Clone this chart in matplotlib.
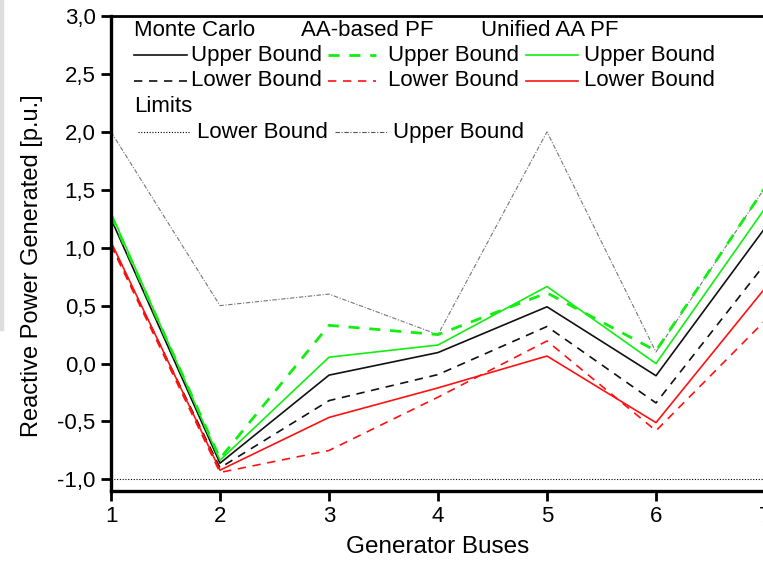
import numpy as np
import matplotlib
matplotlib.use('Agg')
import matplotlib.pyplot as plt
from matplotlib.lines import Line2D
from matplotlib.patches import Rectangle
from matplotlib.ticker import FuncFormatter

plt.rcParams['font.family'] = ['Liberation Sans', 'DejaVu Sans']

buses = [1, 2, 3, 4, 5, 6, 7]

mc_upper = [1.25, -0.86, -0.10, 0.095, 0.49, -0.105, 1.17]
mc_lower = [1.03, -0.90, -0.32, -0.095, 0.32, -0.34, 0.86]
aa_upper = [1.28, -0.82, 0.33, 0.25, 0.61, 0.11, 1.52]
aa_lower = [1.02, -0.94, -0.75, -0.29, 0.195, -0.58, 0.37]
un_upper = [1.30, -0.835, 0.055, 0.16, 0.665, 0.0, 1.34]
un_lower = [1.05, -0.92, -0.465, -0.21, 0.065, -0.51, 0.65]
lim_upper = [2.0, 0.5, 0.6, 0.25, 2.0, 0.1, 1.52]
lim_lower = [-1.0, -1.0, -1.0, -1.0, -1.0, -1.0, -1.0]

green = '#11ee11'
red = '#ff1111'
dashdot = (0, (4, 1.5, 1, 1.5))

fig = plt.figure(figsize=(7.63, 5.61), dpi=100)
ax = fig.add_axes([111/763, 70/561, 654/763, 475/561])

ax.plot(buses, lim_upper, color='#777777', lw=0.8, ls=dashdot)
ax.plot(buses, lim_lower, color='black', lw=0.8, ls=(0, (1, 1.5)))
ax.plot(buses, mc_upper, color='#111111', lw=1.2)
ax.plot(buses, mc_lower, color='#111111', lw=1.2, ls=(0, (5, 4)))
ax.plot(buses, aa_upper, color=green, lw=2.0, ls=(0, (4, 3.5)))
ax.plot(buses, aa_lower, color=red, lw=1.2, ls=(0, (5, 4)))
ax.plot(buses, un_upper, color=green, lw=1.2)
ax.plot(buses, un_lower, color=red, lw=1.2)

ax.set_xlim(1, 7)
ax.set_ylim(-1.1, 3.0)
ax.set_xticks(buses)
ax.set_yticks(np.arange(-1.0, 3.01, 0.5))
ax.yaxis.set_major_formatter(FuncFormatter(lambda v, p: f'{v:.1f}'.replace('.', ',')))
ax.tick_params(direction='out', length=7, width=2, labelsize=16, pad=4)

for s in ['left', 'bottom']:
    ax.spines[s].set_linewidth(2.4)
ax.spines['top'].set_linewidth(2.0)
ax.spines['right'].set_visible(False)

ax.set_xlabel('Generator Buses', fontsize=17.5, labelpad=6)
ax.set_ylabel('Reactive Power Generated [p.u.]', fontsize=17)
ax.yaxis.set_label_coords(-0.104, 0.474)

# hand-made legend block, in pixel positions of the figure
def fx(px):
    return px / 763

def fy(py):
    return 1 - py / 561

fs = 16
for x, t in [(134, 'Monte Carlo'), (301, 'AA-based PF'), (481, 'Unified AA PF')]:
    fig.text(fx(x), fy(30), t, fontsize=fs, va='center')

rows = [
    (55, 'Upper Bound', [('#111111', 1.2, '-'), (green, 2.0, (0, (4, 3.5))), (green, 1.2, '-')]),
    (81, 'Lower Bound', [('#111111', 1.2, (0, (5, 4))), (red, 1.2, (0, (5, 4))), (red, 1.2, '-')]),
]
starts = [(134, 187, 191), (328, 376, 388), (526, 578, 584)]
for y, lab, styles in rows:
    for (x0, x1, xt), (c, lw, ls) in zip(starts, styles):
        fig.add_artist(Line2D([fx(x0), fx(x1)], [fy(y), fy(y)], color=c, lw=lw, ls=ls))
        fig.text(fx(xt), fy(y), lab, fontsize=fs, va='center')

fig.text(fx(134), fy(106), 'Limits', fontsize=fs, va='center')
fig.add_artist(Line2D([fx(138), fx(190)], [fy(132), fy(132)], color='black', lw=0.8, ls=(0, (1, 1.5))))
fig.text(fx(197), fy(132), 'Lower Bound', fontsize=fs, va='center')
fig.add_artist(Line2D([fx(335), fx(388)], [fy(132), fy(132)], color='#555555', lw=0.8, ls=dashdot))
fig.text(fx(393), fy(132), 'Upper Bound', fontsize=fs, va='center')

# grey strip at the left edge of the screenshot
fig.patches.append(Rectangle((0, fy(330)), fx(3), 330/561, transform=fig.transFigure,
                             color='#dddddd', zorder=0))

fig.savefig('out.png', dpi=100)
